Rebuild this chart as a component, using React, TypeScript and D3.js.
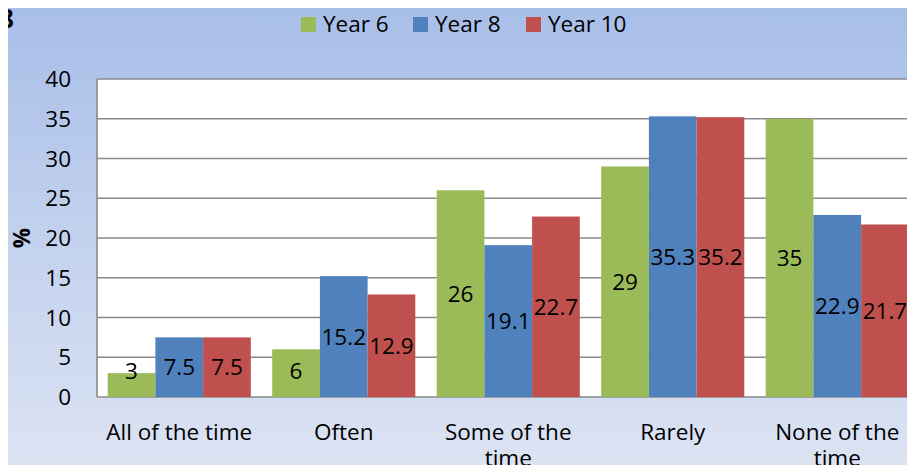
import React from "react";
import * as d3 from "d3";

const categories = ["All of the time", "Often", "Some of the time", "Rarely", "None of the time"];
const categoryLines = [["All of the time"], ["Often"], ["Some of the", "time"], ["Rarely"], ["None of the", "time"]];
const seriesNames = ["Year 6", "Year 8", "Year 10"];
const year6 = [3, 6, 26, 29, 35];
const year8 = [7.5, 15.2, 19.1, 35.3, 22.9];
const year10 = [7.5, 12.9, 22.7, 35.2, 21.7];
const yTicks = [0, 5, 10, 15, 20, 25, 30, 35, 40];
const colors = ["#9BBB59", "#4F81BD", "#C0504D"];

const W = 915;
const H = 473;
const FONT = "'Open Sans', 'Noto Sans', sans-serif";
const FS = 22.5;

export default function App() {
  const series = [year6, year8, year10];
  const left = 97;
  const right = 919.5;
  const top = 79;
  const bottom = 397;

  const x0 = d3.scaleBand<string>().domain(categories).range([left, right]).paddingInner(0.13).paddingOuter(0.065);
  const x1 = d3.scaleBand<string>().domain(seriesNames).range([0, x0.bandwidth()]).padding(0);
  const y = d3.scaleLinear().domain([0, 40]).range([bottom, top]);

  const legendX = [301, 413, 526];

  return (
    <div style={{ margin: -8 }}>
      <svg width={W} height={H} style={{ display: "block" }} fontFamily={FONT}>
        <defs>
          <linearGradient id="bg" x1="0" y1="0" x2="0" y2="1">
            <stop offset="0" stopColor="#a7bee8" />
            <stop offset="1" stopColor="#dde4f3" />
          </linearGradient>
        </defs>
        <rect x={0} y={0} width={W} height={H} fill="url(#bg)" />
        <text x={-1} y={4} fontSize={26} fontWeight="bold" fill="#000">8</text>
        <text x={-1} y={28} fontSize={26} fontWeight="bold" fill="#000">8</text>

        {/* legend */}
        {seriesNames.map((s, i) => (
          <g key={s}>
            <rect x={legendX[i]} y={17} width={15} height={15} fill={colors[i]} />
            <text x={legendX[i] + 22} y={32} fontSize={FS} fill="#000">{s}</text>
          </g>
        ))}

        {/* plot area */}
        <rect x={left} y={top} width={right - left} height={bottom - top} fill="#fff" />
        {yTicks.map((t) => (
          <line key={t} x1={left} x2={right} y1={y(t)} y2={y(t)} stroke="#8a8a8a" strokeWidth={1.6} />
        ))}
        <line x1={left} x2={left} y1={top} y2={bottom} stroke="#8a8a8a" strokeWidth={1.6} />

        {yTicks.map((t) => (
          <text key={t} x={71} y={y(t)} dy="0.36em" textAnchor="end" fontSize={FS} fill="#000">{t}</text>
        ))}
        <text transform={`translate(30,238) rotate(-90)`} textAnchor="middle" fontSize={FS} fontWeight="bold" fill="#000">%</text>

        {/* bars */}
        {categories.map((c, ci) => (
          <g key={c} transform={`translate(${x0(c)},0)`}>
            {series.map((vals, si) => (
              <rect key={si} x={x1(seriesNames[si])} y={y(vals[ci])} width={x1.bandwidth()} height={y(0) - y(vals[ci])} fill={colors[si]} />
            ))}
          </g>
        ))}
        {/* labels */}
        {categories.map((c, ci) => (
          <g key={c} transform={`translate(${x0(c)},0)`}>
            {series.map((vals, si) => {
              const cy = Math.min(y(vals[ci] / 2), bottom - 26);
              return (
                <text key={si} x={(x1(seriesNames[si]) as number) + x1.bandwidth() / 2} y={cy} dy="0.36em" textAnchor="middle" fontSize={FS} fill="#000">
                  {vals[ci]}
                </text>
              );
            })}
          </g>
        ))}

        {/* category labels */}
        {categories.map((c, ci) =>
          categoryLines[ci].map((ln, li) => (
            <text key={c + li} x={(x0(c) as number) + x0.bandwidth() / 2} y={440 + li * 26} textAnchor="middle" fontSize={FS} fill="#000">
              {ln}
            </text>
          ))
        )}
      </svg>
    </div>
  );
}
